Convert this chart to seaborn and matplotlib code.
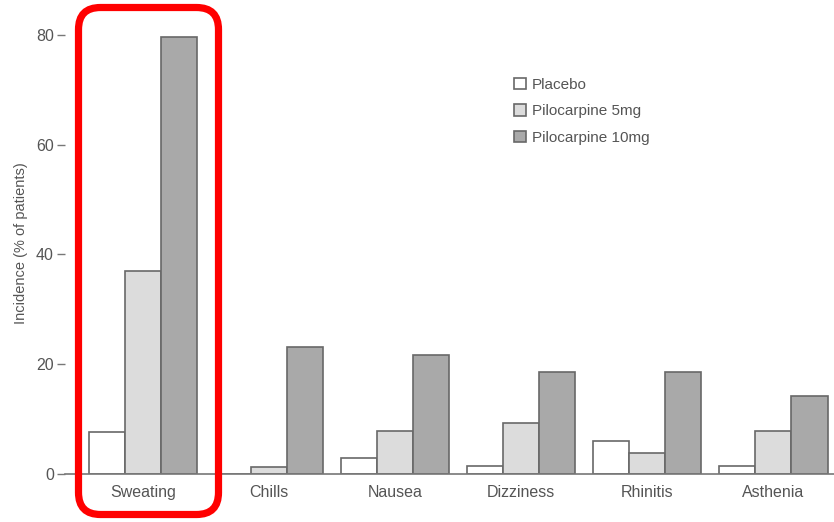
"""Adverse events by pilocarpine dose: grouped bar chart"""
import matplotlib
matplotlib.use("Agg")
import matplotlib.pyplot as plt
from matplotlib.patches import FancyBboxPatch
from matplotlib.transforms import IdentityTransform
import pandas as pd
import seaborn as sns

symptoms = ["Sweating", "Chills", "Nausea", "Dizziness", "Rhinitis", "Asthenia"]
groups = ["Placebo", "Pilocarpine 5mg", "Pilocarpine 10mg"]
placebo = [7.6, 0.0, 2.9, 1.4, 6.0, 1.4]
pilo_5mg = [36.9, 1.3, 7.8, 9.3, 3.8, 7.8]
pilo_10mg = [79.7, 23.1, 21.6, 18.5, 18.5, 14.2]
yticks = [0, 20, 40, 60, 80]


def main():
    rows = []
    for grp, vals in zip(groups, [placebo, pilo_5mg, pilo_10mg]):
        for sym, v in zip(symptoms, vals):
            rows.append({"symptom": sym, "group": grp, "incidence": v})
    df = pd.DataFrame(rows)

    sns.set_style("white")
    plt.rcParams["font.family"] = ["Liberation Sans", "DejaVu Sans"]
    text_col = "#555555"

    fig = plt.figure(figsize=(8.34, 5.22), dpi=100)
    ax = fig.add_axes([65 / 834, 48 / 522, 1 - 65 / 834, 461 / 522])

    sns.barplot(data=df, x="symptom", y="incidence", hue="group",
                order=symptoms, hue_order=groups,
                palette=["#ffffff", "#dcdcdc", "#a9a9a9"], saturation=1,
                edgecolor="#686868", linewidth=1.2, width=0.857,
                errorbar=None, ax=ax)

    ax.set_xlim(-0.62, 5.48)
    ax.set_ylim(0, 84)
    ax.set_yticks(yticks)
    ax.set_xlabel("")
    ax.set_ylabel("Incidence (% of patients)", fontsize=10.5, color=text_col, labelpad=6)
    for side in ["top", "right", "left"]:
        ax.spines[side].set_visible(False)
    ax.spines["bottom"].set_color("#777777")
    ax.spines["bottom"].set_linewidth(1.2)
    ax.tick_params(axis="y", direction="out", length=6, width=1, color="#777777",
                   labelsize=11.5, labelcolor=text_col, left=True, pad=2)
    ax.tick_params(axis="x", length=0, labelsize=11.5, labelcolor=text_col, pad=8)

    handles, labels = ax.get_legend_handles_labels()
    ax.legend(handles, labels, loc="upper left", bbox_to_anchor=(500 / 834, 1 - 64 / 522),
              bbox_transform=fig.transFigure, frameon=False, fontsize=11,
              labelcolor=text_col, handlelength=0.8, handleheight=0.8,
              handletextpad=0.4, labelspacing=0.8)

    # red highlight box around the Sweating group
    box = FancyBboxPatch((78.5, 7.5), 140, 507,
                         boxstyle="round,pad=0,rounding_size=22",
                         transform=IdentityTransform(), fill=False,
                         edgecolor="#ff0000", linewidth=5.2, zorder=10)
    fig.patches.append(box)

    fig.savefig("out.png", dpi=100)
    plt.close(fig)


if __name__ == "__main__":
    main()
